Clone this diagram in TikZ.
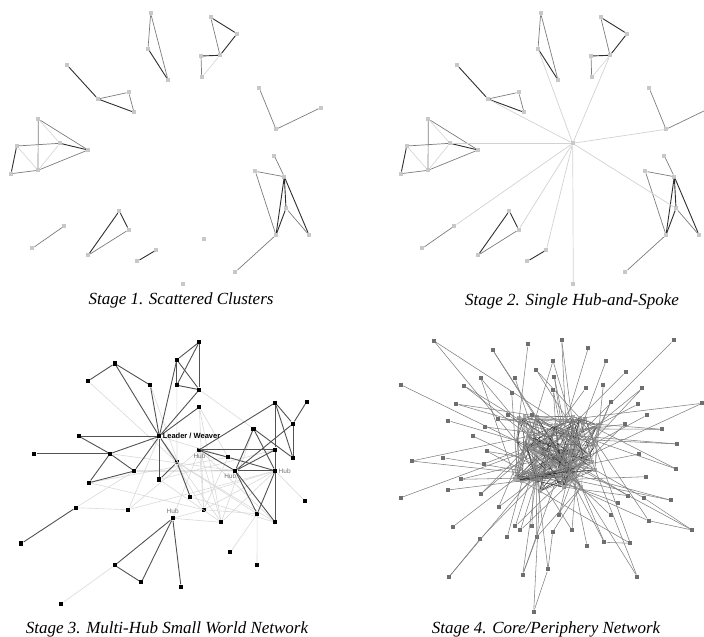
\documentclass[tikz,border=0pt]{standalone}
\usepackage{fontspec}
\setmainfont{Liberation Serif}
\newfontfamily\labelfont{Liberation Sans}
\usetikzlibrary{positioning}

\definecolor{nodegrey}{HTML}{C8C8C8}
\definecolor{edgedark}{HTML}{2E2E2E}
\definecolor{edgemid}{HTML}{7C7C7C}
\definecolor{edgelight}{HTML}{D2D2D2}
\definecolor{pergrey}{HTML}{6E6E6E}
\definecolor{coregrey}{HTML}{A8A8A8}

\tikzset{
    greysq/.style={fill=nodegrey, inner sep=0pt, minimum size=4pt},
    blacksq/.style={fill=black, inner sep=0pt, minimum size=4.2pt},
    persq/.style={fill=pergrey, inner sep=0pt, minimum size=4.2pt},
    coresq/.style={fill=coregrey, inner sep=0pt, minimum size=3.8pt},
    darkedge/.style={edgedark, line width=0.9pt},
    midedge/.style={edgemid, line width=0.7pt},
    lightedge/.style={edgelight, line width=0.6pt},
    spoke/.style={edgelight, line width=0.7pt},
    tiedge/.style={black!68, line width=0.9pt},
    faintedge/.style={black!15, line width=0.6pt},
    peredge/.style={black!50, line width=0.55pt},
    coreedge/.style={black!85, line width=0.3pt},
    coregreyedge/.style={black!35, line width=0.4pt},
    caption/.style={font=\fontsize{17}{20}\selectfont\itshape, anchor=base},
    hublabel/.style={font=\labelfont\fontsize{6.5}{7}\selectfont, text=black!55, inner sep=0.5pt}
}

\begin{document}
\begin{tikzpicture}[x=1pt, y=-1pt]
    \useasboundingbox (0,0) rectangle (704,637);

    % Stage 1 and Stage 2: the same clusters, shifted
    \foreach \p/\dx in {a/0, b/390} {
        \foreach \n/\x/\y in {A1/150.7/13.3, A2/148/48.7, A3/168/80,
                B1/210.7/17.3, B2/237/33.7, B3/220/55.3, B4/201/56, B5/201.7/77.3,
                C1/67/65, C2/98/99, C3/128.7/92.3, C4/134/112.3,
                D1/259.3/88.3, D2/276/129.3, D3/320.7/107.7,
                E1/38.3/119, E2/16.7/146, E3/60/143.3, E4/88/150, E5/38/170.3, E6/11/173.7,
                F1/274.3/155.7, F2/255.3/171.3, F3/284.3/176.7, F4/286/208.3,
                F5/276/235, F6/309/235, F7/235.3/272,
                G1/64.3/226, G2/32.3/248.3,
                H1/119.3/211, H2/128.7/229.7, H3/88/255.3,
                I1/156.3/250, I2/137.3/261.3, J1/183.3/284.3}
            \node[greysq] (\p\n) at (\x+\dx,\y) {};

        % strong ties
        \foreach \u/\v in {A2/A3, B1/B2, B2/B3, B4/B3, C1/C2, C2/C4, E2/E6, E3/E4,
                F3/F4, F3/F5, F3/F6, F4/F5, H1/H2, H1/H3, I1/I2}
            \draw[darkedge] (\p\u) -- (\p\v);
        % medium ties
        \foreach \u/\v in {A1/A2, A1/A3, B1/B3, B4/B5, C2/C3, C3/C4, D1/D2, D2/D3,
                E1/E5, E1/E4, E2/E3, E5/E4, E6/E5, F1/F3, F2/F3, F2/F5, F4/F6, F5/F7,
                G1/G2, H2/H3}
            \draw[midedge] (\p\u) -- (\p\v);
        % weak ties
        \foreach \u/\v in {B5/B3, E1/E3, E2/E5, E3/E5}
            \draw[lightedge] (\p\u) -- (\p\v);
    }

    % lone node of Stage 1
    \node[greysq] (aK1) at (204,238.7) {};

    % hub of Stage 2
    \node[greysq] (hub) at (572.7,143.3) {};
    \foreach \t in {A2, B3, C2, D2, E3, F4, G1, H2, I1, J1}
        \draw[spoke] (hub) -- (b\t);

    % Stage 3: multi-hub network
    \foreach \n/\x/\y in {n1/199.3/342, n2/176.8/359.8, n3/114.8/363.5, n4/88/381,
            n5/150.3/385.2, n6/176.8/385.2, n7/199.3/389.7, n8/199.3/407,
            n9/79/436.3, n10/159.3/436.3, n11/34.3/453.7, n12/110/453.7,
            n13/199.5/449.7, n14/177/462.3, n15/134.3/471, n16/89/482.7,
            n17/159.3/479.5, n18/190.3/497, n19/75.7/507.7, n20/128.3/509.7,
            n21/203.7/509.7, n22/172.7/518.3, n23/21.3/543.5, n24/114.8/565.3,
            n25/141.3/582.3, n26/181/586.7, n27/61/604,
            r1/275.2/402.7, r2/306.7/401.7, r3/293/423.7, r4/253.5/428.7,
            r5/275.2/449.7, r6/293/458, r7/228/457.2, r8/235.2/470.8,
            r9/275.2/470.8, r10/305/501.2, r11/257.2/513.8, r12/221.3/522.3,
            r13/275.2/522.3, r14/230.3/552.3, r15/257/565.3}
        \node[blacksq] (\n) at (\x,\y) {};

    % weak ties first
    \foreach \u/\v in {n4/n14, n6/n14, n7/r4, n8/r7, n8/n21, n10/r7, n10/n21, n10/r12,
            n10/n20, n16/n21, n19/n15, n19/n20, n20/n13, n20/r9, n22/n21, n22/r12,
            n22/n13, n24/n27, n17/r12, n18/r13, n21/r9, n21/r11, n13/r12, n13/r13,
            r12/r4, r12/r9, r14/r11, r15/r11, r10/r9, n14/r11, n13/n21, n18/r9,
            n17/r5, r7/n21, n12/r8, n16/r7, n5/n18, n8/r12, n14/r13}
        \draw[faintedge] (\u) -- (\v);
    \draw[black!30, line width=0.7pt] (n15) -- (r8);

    % strong ties
    \foreach \u/\v in {n1/n2, n1/n6, n1/n7, n2/n6, n2/n7, n6/n7, n2/n10, n7/n10,
            n8/n10, n3/n4, n3/n5, n3/n10, n5/n10, n9/n10, n9/n12, n11/n12,
            n12/n10, n12/n15, n12/n16, n15/n16, n15/n10, n10/n17, n10/n14,
            n14/n17, n14/n18, n13/r1, n13/r5, n13/r7, r7/r9, n13/r8,
            r1/r3, r1/r5, r1/r6, r2/r3, r3/r6, r3/r8, r4/r8, r4/r9, r4/r6,
            r5/r8, r5/r9, r8/r9, r9/r13, r8/r11, r8/r13, r9/r11,
            n19/n23, n22/n24, n22/n25, n22/n26, n24/n25}
        \draw[tiedge] (\u) -- (\v);

    \node[anchor=west, inner sep=1pt, font=\labelfont\bfseries\fontsize{7.5}{8}\selectfont]
        (leader) at (n10.east) {Leader / Weaver};
    \node[hublabel, below=1pt of n13] (hubA) {Hub};
    \node[hublabel, below left=0pt and -4pt of r8] (hubB) {Hub};
    \node[hublabel, right=0.5pt of r9] (hubC) {Hub};
    \node[hublabel, above=1.5pt of n22] (hubD) {Hub};

    % Stage 4: core / periphery
    \pgfmathsetseed{4242}
    \foreach \i in {1,...,52} {
        \pgfmathsetmacro\cx{556+43*rand}
        \pgfmathsetmacro\cy{453+39*rand}
        \node[coresq] (c\i) at (\cx,\cy) {};
    }
    \foreach \i in {1,...,300} {
        \pgfmathtruncatemacro\a{random(1,52)}
        \pgfmathtruncatemacro\b{random(1,52)}
        \ifnum\a=\b\else
            \ifodd\i \draw[coregreyedge] (c\a) -- (c\b);
            \else \draw[coreedge] (c\a) -- (c\b);\fi
        \fi
    }
    \foreach \x/\y [count=\i] in {433.7/340.7, 528/344.3, 561.7/340.3, 673.7/340.3,
            492.7/350, 588.3/347.7, 553/361, 606/361, 536.3/370, 625.7/372,
            480.7/378, 515/378, 554.3/376.7, 400.7/384.7, 464/385.7, 603.3/384.7,
            642.3/388.3, 585.7/388.3, 553.3/390.3, 511.7/392.7, 610.7/401.7,
            637.7/404.3, 456.3/404, 508/415, 532.3/415, 646.7/415.3, 498.3/419.3,
            448.3/420.7, 624.7/424.3, 485/427, 662/429.3, 472.7/436, 677.3/444,
            639.3/454, 487/451.3, 443.3/457.7, 411.7/461, 483.7/464, 676.3/469,
            646.3/476.7, 461/479.3, 447.7/490, 480.7/494, 400.7/497.7, 628.3/495.7,
            644/498, 671.3/500.3, 617.7/502.7, 498.7/507, 610.7/515.3, 559/515.3,
            453/526.7, 648.7/520.7, 692/530, 515.3/526.3, 532/526.3, 520.3/530.3,
            507.3/537, 536.7/537, 552.7/532, 572/530.3, 480.3/538.7, 604.3/542.3,
            587/545.7, 630.3/543.3, 448.7/577.3, 522.7/574.7, 548/569.3,
            637.3/576.7, 533.7/611.7, 702/403.3} {
        \node[persq] (p\i) at (\x,\y) {};
        \pgfmathtruncatemacro\a{random(1,52)}
        \draw[peredge] (p\i) -- (c\a);
        \ifodd\i
            \pgfmathtruncatemacro\b{random(1,52)}
            \draw[peredge] (p\i) -- (c\b);
        \fi
    }
    % chains out on the rim
    \foreach \u/\v in {p70/p68, p68/p60, p54/p53, p54/p46, p66/p62, p67/p59, p63/p65}
        \draw[peredge] (\u) -- (\v);

    % captions
    \node[caption] (cap1) at (181,304) {Stage 1. Scattered Clusters};
    \node[caption] (cap2) at (572,305) {Stage 2. Single Hub-and-Spoke};
    \node[caption] (cap3) at (167,633) {Stage 3. Multi-Hub Small World Network};
    \node[caption] (cap4) at (546,633) {Stage 4. Core/Periphery Network};
\end{tikzpicture}
\end{document}
